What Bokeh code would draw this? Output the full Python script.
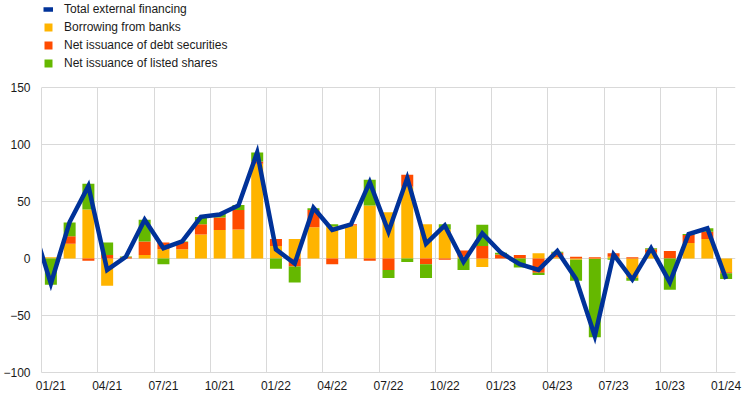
import numpy as np
from bokeh.plotting import figure
from bokeh.models import ColumnDataSource, Range1d, FixedTicker, Legend, LegendItem
from bokeh.embed import file_html
from bokeh.resources import INLINE

# ---------------- data (EUR billions, monthly flows) ----------------
months = ["01/21", "02/21", "03/21", "04/21", "05/21", "06/21", "07/21", "08/21", "09/21", "10/21", "11/21", "12/21",
          "01/22", "02/22", "03/22", "04/22", "05/22", "06/22", "07/22", "08/22", "09/22", "10/22", "11/22", "12/22",
          "01/23", "02/23", "03/23", "04/23", "05/23", "06/23", "07/23", "08/23", "09/23", "10/23", "11/23", "12/23",
          "01/24"]

banks = [1, 13, 43, -24, 0, 3, 8, 8, 21, 25, 25.5, 83,
         11, 17, 27.5, 28, 29, 46.5, 40.5, 63, 30, 25.5, 1.5, -7.5,
         0, 0, 4.5, 1, -1, -0.5, 1.5, -17, 5, 0, 13.5, 17,
         -12]

debt = [0, 6.5, -2, 3, 1, 12, 6, 6.5, 9, 11, 17, 2,
        6, -7, 15, -5, 1, -2, -10, 10.5, -5, -1, 5.5, 11,
        3.5, 3, -12.5, 4, 1.5, 1, 3, 1, 3, 6.5, 7, 6.5,
        -1]

shares = [-23, 12, 22.5, 11, 0.8, 19, -5, 0.5, 6.5, 3, 4.5, 8,
          -9, -14, 1.5, 2, 0, 22.5, -7, -3, -12, 4.5, -10, 18.5,
          1.5, -8, -2, 1, -18.5, -68.5, -1, -2.5, 1, -27.5, 1, 3,
          -5]

# total external financing line (starts one month earlier, 12/20)
total_months = ["12/20"] + months
total = [31, -22, 32, 63.5, -10, 1.5, 34, 9, 15, 36.5, 38.5, 46.5, 93,
         8, -4.5, 44.5, 25, 30, 67, 23.5, 70.5, 13, 29, -3, 22,
         5, -5, -10, 6.5, -18, -68, 3.5, -18.5, 9, -21, 21.5, 26.5,
         -18]

tick_labels = ["01/21", "04/21", "07/21", "10/21", "01/22", "04/22", "07/22", "10/22",
               "01/23", "04/23", "07/23", "10/23", "01/24"]
y_ticks = [-100, -50, 0, 50, 100, 150]

series_names = ["Borrowing from banks", "Net issuance of debt securities", "Net issuance of listed shares"]
series_vals = [banks, debt, shares]
series_colors = ["#FFB400", "#FF4B00", "#65B800"]
line_color = "#003299"
grid_color = "#d9d9d9"
text_color = "#1a1a1a"
FONT = "Liberation Sans"

# ---------------- figure ----------------
x = np.arange(len(months))
x_line = np.array([months.index(m) if m in months else -1 for m in total_months])

p = figure(width=745, height=399, output_backend="svg", toolbar_location=None,
           x_range=Range1d(-0.5, 36.5), y_range=Range1d(-100, 226.3),
           min_border_left=39, min_border_right=10, min_border_top=0, min_border_bottom=27)
p.outline_line_color = None
p.background_fill_color = "white"
p.border_fill_color = "white"

# stacked bars with separate positive / negative stacks
pos = np.zeros(len(months))
neg = np.zeros(len(months))
bar_renderers = []
for name, vals, col in zip(series_names, series_vals, series_colors):
    v = np.array(vals, dtype=float)
    bottom = np.where(v >= 0, pos, neg)
    top = bottom + v
    pos = np.where(v >= 0, top, pos)
    neg = np.where(v < 0, top, neg)
    src = ColumnDataSource(dict(x=x, top=top, bottom=bottom))
    r = p.vbar(x="x", top="top", bottom="bottom", width=0.64, source=src,
               fill_color=col, line_color=None)
    bar_renderers.append(r)

line_src = ColumnDataSource(dict(x=x_line, y=total))
lr = p.line(x="x", y="y", source=line_src, line_color=line_color, line_width=4.5, line_join="miter")

# axes
for ax in (p.xaxis, p.yaxis):
    ax.axis_line_color = grid_color
    ax.major_tick_line_color = None
    ax.minor_tick_line_color = None
    ax.major_tick_in = 0
    ax.major_tick_out = 0
    ax.minor_tick_in = 0
    ax.minor_tick_out = 0
    ax.major_label_text_font = FONT
    ax.major_label_text_font_size = "12px"
    ax.major_label_text_color = text_color

p.yaxis.ticker = FixedTicker(ticks=y_ticks)
p.yaxis.bounds = (-100, 150)
p.yaxis.major_label_standoff = 11

tick_pos = [months.index(t) for t in tick_labels]
p.xaxis.ticker = FixedTicker(ticks=tick_pos)
p.xaxis.major_label_overrides = {int(i): t for i, t in zip(tick_pos, tick_labels)}
p.xaxis.major_label_standoff = 6

p.xgrid.ticker = FixedTicker(ticks=[i - 0.5 for i in tick_pos])
p.xgrid.cross_bounds = (-100, 150)
p.xgrid.grid_line_color = grid_color
p.ygrid.ticker = FixedTicker(ticks=y_ticks)
p.ygrid.grid_line_color = grid_color

legend = Legend(items=[LegendItem(label="Total external financing", renderers=[lr])] +
                [LegendItem(label=n, renderers=[r]) for n, r in zip(series_names, bar_renderers)],
                location="top_left", margin=2, padding=0, spacing=4,
                glyph_width=10, glyph_height=10, label_standoff=11, label_height=12,
                label_text_font=FONT, label_text_font_size="12px", label_text_color=text_color,
                border_line_color=None, background_fill_alpha=0)
p.add_layout(legend)

open("out.html", "w").write(file_html(p, INLINE))
